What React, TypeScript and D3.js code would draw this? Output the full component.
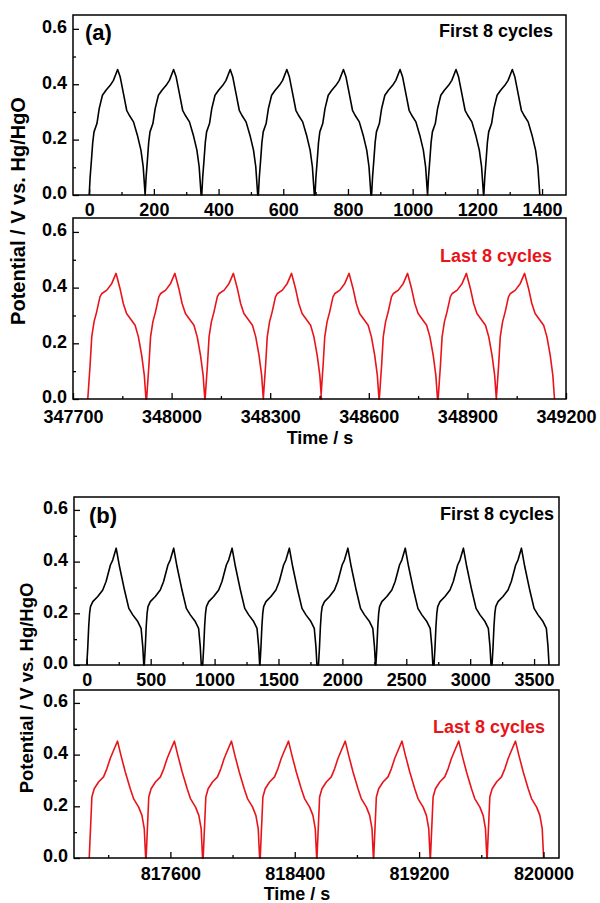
import React, { useRef, useEffect } from 'react';
import * as d3 from 'd3';

type Pt = [number, number];

const yTicks = [0, 0.2, 0.4, 0.6];
const yMinorTicks = [0.1, 0.3, 0.5];

// (a) first 8 cycles
const aFirstStarts = [0, 173, 348, 523, 698, 873, 1046, 1220];
const aFirstProfile: Pt[] = [
  [0, 0], [3, 0.065], [7, 0.126], [11, 0.19], [15, 0.228], [24, 0.258], [31, 0.312],
  [41, 0.36], [52, 0.378], [65, 0.396], [75, 0.414], [88, 0.453], [96, 0.426],
  [106, 0.366], [116, 0.306], [124, 0.288], [137, 0.264], [149, 0.216], [160, 0.162],
  [167, 0.102], [173, 0],
];
const aFirstTicks = [0, 200, 400, 600, 800, 1000, 1200, 1400];
const aFirstMinor = [100, 300, 500, 700, 900, 1100, 1300];

// (a) last 8 cycles
const aLastStarts = [347745, 347924, 348102, 348279, 348454, 348632, 348811, 348988];
const aLastProfile: Pt[] = [
  [0, 0], [4, 0.07], [7, 0.121], [12, 0.223], [19, 0.277], [27, 0.313], [37, 0.367],
  [43, 0.379], [58, 0.391], [73, 0.415], [86, 0.451], [98, 0.397], [108, 0.343],
  [118, 0.307], [129, 0.289], [144, 0.265], [154, 0.223], [164, 0.157], [172, 0.085],
  [177, 0],
];
const aLastTicks = [347700, 348000, 348300, 348600, 348900, 349200];
const aLastMinor = [347850, 348150, 348450, 348750, 349050];

// (b) first 8 cycles
const bFirstStarts = [0, 450, 907, 1355, 1813, 2262, 2717, 3171];
const bFirstProfile: Pt[] = [
  [0, 0], [8, 0.07], [15, 0.148], [22, 0.2], [29, 0.226], [47, 0.245], [86, 0.265],
  [125, 0.29], [151, 0.323], [185, 0.387], [203, 0.406], [230, 0.452], [256, 0.381],
  [295, 0.29], [329, 0.219], [360, 0.194], [399, 0.168], [425, 0.142], [438, 0.071],
  [446, 0],
];
const bFirstTicks = [0, 500, 1000, 1500, 2000, 2500, 3000, 3500];
const bFirstMinor = [250, 750, 1250, 1750, 2250, 2750, 3250];

// (b) last 8 cycles
const bLastStarts = [817078, 817444, 817811, 818178, 818543, 818908, 819273, 819638];
const bLastProfile: Pt[] = [
  [0, 0], [5, 0.07], [11, 0.152], [17, 0.236], [32, 0.268], [60, 0.294], [92, 0.314],
  [114, 0.346], [135, 0.385], [157, 0.417], [182, 0.452], [204, 0.397], [232, 0.333],
  [264, 0.268], [285, 0.23], [318, 0.197], [339, 0.165], [354, 0.114], [363, 0],
];
const bLastTicks = [817600, 818400, 819200, 820000];
const bLastMinor = [817200, 818000, 818800, 819600];

const FONT = '"Liberation Sans", Arial, sans-serif';
const RED = '#e8141a';

const series = (starts: number[], profile: Pt[]): Pt[] =>
  starts.flatMap(s => profile.map(([t, v]) => [s + t, v] as Pt));

const plots = [
  { left: 73, right: 566, top: 15, bottom: 195, xDomain: [-50, 1474], data: series(aFirstStarts, aFirstProfile), ticks: aFirstTicks, minor: aFirstMinor, pad: 8, color: '#000', note: 'First 8 cycles', noteX: 553, noteY: 37 },
  { left: 73, right: 566, top: 218, bottom: 399, xDomain: [347700, 349200], data: series(aLastStarts, aLastProfile), ticks: aLastTicks, minor: aLastMinor, pad: 11, color: RED, note: 'Last 8 cycles', noteX: 552, noteY: 262 },
  { left: 74, right: 559, top: 497, bottom: 665, xDomain: [-100, 3695], data: series(bFirstStarts, bFirstProfile), ticks: bFirstTicks, minor: bFirstMinor, pad: 8, color: '#000', note: 'First 8 cycles', noteX: 554, noteY: 520 },
  { left: 74, right: 559, top: 690, bottom: 858, xDomain: [816980, 820100], data: series(bLastStarts, bLastProfile), ticks: bLastTicks, minor: bLastMinor, pad: 9, color: RED, note: 'Last 8 cycles', noteX: 545, noteY: 733 },
];

const App = () => {
  const svgRef = useRef<SVGSVGElement>(null);

  useEffect(() => {
    const svg = d3.select(svgRef.current);
    svg.selectAll('*').remove();

    plots.forEach(p => {
      const x = d3.scaleLinear().domain(p.xDomain).range([p.left, p.right]);
      const y = d3.scaleLinear().domain([0, 0.65]).range([p.bottom, p.top]);
      const g = svg.append('g');

      const line = d3.line<Pt>().x(d => x(d[0])).y(d => y(d[1]));
      g.append('path')
        .datum(p.data)
        .attr('d', line)
        .attr('fill', 'none')
        .attr('stroke', p.color)
        .attr('stroke-width', 1.6)
        .attr('stroke-linejoin', 'round');

      const styleAxis = (ax: any) => {
        ax.select('.domain').remove();
        ax.attr('font-family', FONT).attr('font-size', 18).attr('font-weight', 'bold');
        ax.selectAll('line').attr('stroke', '#000').attr('stroke-width', 1.3);
        ax.selectAll('text').attr('fill', '#000');
      };

      const xa = g.append('g').attr('transform', `translate(0,${p.bottom})`)
        .call(d3.axisBottom(x).tickValues(p.ticks).tickSize(-6).tickPadding(p.pad).tickFormat(d3.format('d')));
      styleAxis(xa);
      const xm = g.append('g').attr('transform', `translate(0,${p.bottom})`)
        .call(d3.axisBottom(x).tickValues(p.minor).tickSize(-3).tickFormat(() => ''));
      styleAxis(xm);

      const ya = g.append('g').attr('transform', `translate(${p.left},0)`)
        .call(d3.axisLeft(y).tickValues(yTicks).tickSize(-6).tickPadding(6).tickFormat(d3.format('.1f')));
      styleAxis(ya);
      ya.selectAll('text').attr('dy', '0.22em');
      const ym = g.append('g').attr('transform', `translate(${p.left},0)`)
        .call(d3.axisLeft(y).tickValues(yMinorTicks).tickSize(-3).tickFormat(() => ''));
      styleAxis(ym);

      g.append('rect')
        .attr('x', p.left).attr('y', p.top)
        .attr('width', p.right - p.left).attr('height', p.bottom - p.top)
        .attr('fill', 'none').attr('stroke', '#000').attr('stroke-width', 1.5);

      g.append('text')
        .attr('x', p.noteX).attr('y', p.noteY)
        .attr('text-anchor', 'end')
        .attr('font-family', FONT).attr('font-size', 18).attr('font-weight', 'bold')
        .attr('fill', p.color)
        .text(p.note);
    });

    const label = (txt: string, x: number, y: number, size: number, rotate = false, anchor = 'middle') => {
      svg.append('text')
        .attr('transform', rotate ? `translate(${x},${y}) rotate(-90)` : `translate(${x},${y})`)
        .attr('text-anchor', anchor)
        .attr('font-family', FONT).attr('font-size', size).attr('font-weight', 'bold')
        .attr('fill', '#000')
        .text(txt);
    };

    label('(a)', 85, 40, 22, false, 'start');
    label('(b)', 89, 523, 22, false, 'start');
    label('Potential / V vs. Hg/HgO', 25, 211, 20, true);
    label('Potential / V vs. Hg/HgO', 33, 688, 18.5, true);
    label('Time / s', 320, 444, 18);
    label('Time / s', 297, 900, 18);
  }, []);

  return (
    <svg
      ref={svgRef}
      width={600}
      height={903}
      style={{ position: 'absolute', left: 0, top: 0, background: '#fff' }}
    />
  );
};

export default App;
